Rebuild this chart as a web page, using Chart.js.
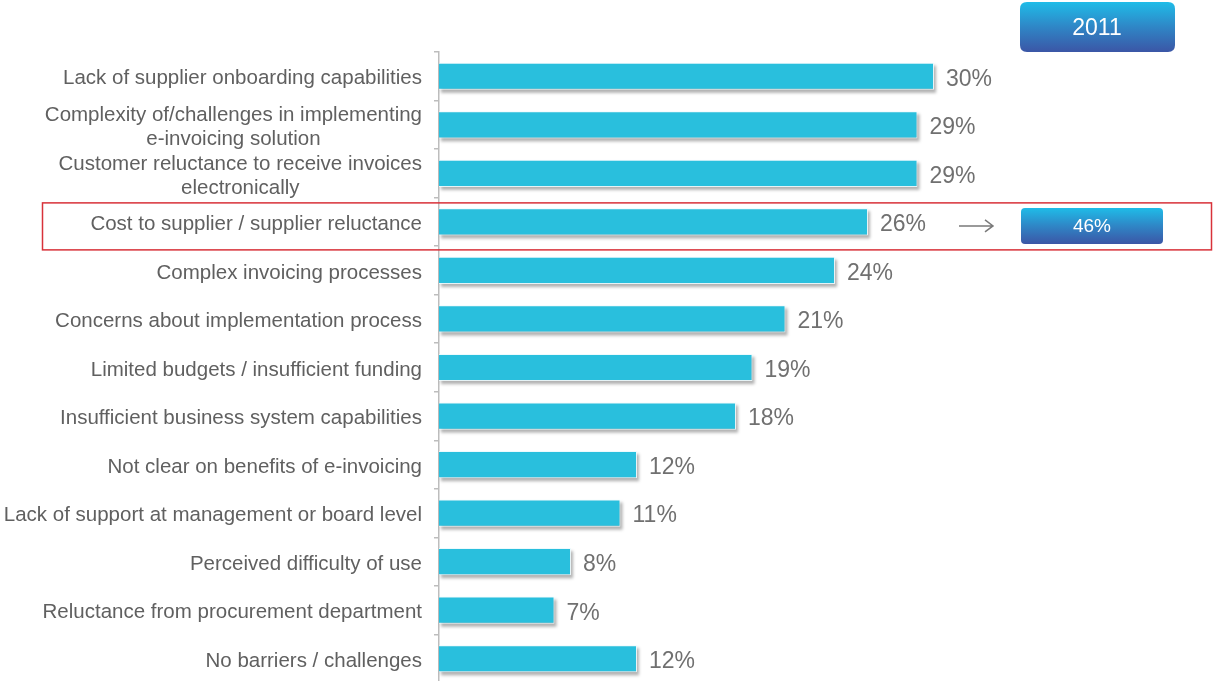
<!DOCTYPE html>
<html>
<head>
<meta charset="utf-8">
<script src="https://cdn.jsdelivr.net/npm/chart.js@4/dist/chart.umd.min.js"></script>
<style>
    html, body { margin: 0; padding: 0; background: #fff; overflow: hidden; }
    #wrap { position: relative; width: 1214px; height: 684px; }
</style>
</head>
<body>
<div id="wrap"><canvas id="barriersChart"></canvas></div>
<script>
    'use strict';

    var categories = [
        ['Lack of supplier onboarding capabilities'],
        ['Complexity of/challenges in implementing', 'e-invoicing solution'],
        ['Customer reluctance to receive invoices', 'electronically'],
        ['Cost to supplier / supplier reluctance'],
        ['Complex invoicing processes'],
        ['Concerns about implementation process'],
        ['Limited budgets / insufficient funding'],
        ['Insufficient business system capabilities'],
        ['Not clear on benefits of e-invoicing'],
        ['Lack of support at management or board level'],
        ['Perceived difficulty of use'],
        ['Reluctance from procurement department'],
        ['No barriers / challenges']
    ];
    var values2011 = [30, 29, 29, 26, 24, 21, 19, 18, 12, 11, 8, 7, 12];
    var yearLabel = '2011';
    var highlightIndex = 3;
    var highlightValue = 46;

    var labelFont = '20.5px "Liberation Sans", Arial, sans-serif';
    var valueFont = '23px "Liberation Sans", Arial, sans-serif';

    function blueGradient(ctx, top, bottom) {
        var g = ctx.createLinearGradient(0, top, 0, bottom);
        g.addColorStop(0, '#1fbce8');
        g.addColorStop(0.5, '#2f86c6');
        g.addColorStop(1, '#3b56a6');
        return g;
    }

    function roundBox(ctx, x, y, w, h, r) {
        ctx.beginPath();
        ctx.moveTo(x + r, y);
        ctx.lineTo(x + w - r, y);
        ctx.quadraticCurveTo(x + w, y, x + w, y + r);
        ctx.lineTo(x + w, y + h - r);
        ctx.quadraticCurveTo(x + w, y + h, x + w - r, y + h);
        ctx.lineTo(x + r, y + h);
        ctx.quadraticCurveTo(x, y + h, x, y + h - r);
        ctx.lineTo(x, y + r);
        ctx.quadraticCurveTo(x, y, x + r, y);
        ctx.closePath();
    }

    // soft grey shadow behind each bar, offset down and right
    var barShadow = {
        id: 'barShadow',
        beforeDatasetsDraw: function (chart) {
            var ctx = chart.ctx;
            var meta = chart.getDatasetMeta(0);
            ctx.save();
            ctx.filter = 'blur(1.5px)';
            ctx.fillStyle = 'rgba(0,0,0,0.3)';
            meta.data.forEach(function (bar) {
                var h = bar.height;
                ctx.fillRect(bar.base + 2, bar.y - h / 2 + 3, bar.x - bar.base, h);
            });
            ctx.restore();
        }
    };

    // category names (multi-line ones centred in their block) and value labels
    var barLabels = {
        id: 'barLabels',
        afterDraw: function (chart) {
            var ctx = chart.ctx;
            var yScale = chart.scales.y;
            var meta = chart.getDatasetMeta(0);
            var rightEdge = chart.chartArea.left - 17;

            ctx.save();
            ctx.textBaseline = 'middle';
            ctx.font = labelFont;
            ctx.fillStyle = '#606060';
            categories.forEach(function (lines, i) {
                var cy = yScale.getPixelForValue(i) + 2.5;
                var maxW = 0;
                lines.forEach(function (l) { maxW = Math.max(maxW, ctx.measureText(l).width); });
                ctx.textAlign = 'center';
                var lh = 24;
                var y0 = cy - (lines.length - 1) * lh / 2;
                lines.forEach(function (l, k) {
                    ctx.fillText(l, rightEdge - maxW / 2, y0 + k * lh);
                });
            });

            ctx.font = valueFont;
            ctx.fillStyle = '#707070';
            ctx.textAlign = 'left';
            meta.data.forEach(function (bar, i) {
                ctx.fillText(values2011[i] + '%', bar.x + 12, bar.y + 3);
            });
            ctx.restore();
        }
    };

    // year badge, highlight frame, arrow and comparison badge
    var annotations = {
        id: 'annotations',
        afterDraw: function (chart) {
            var ctx = chart.ctx;
            var cy = chart.scales.y.getPixelForValue(highlightIndex);

            ctx.save();
            roundBox(ctx, 1020, 2, 155, 50, 7);
            ctx.fillStyle = blueGradient(ctx, 2, 52);
            ctx.fill();
            ctx.fillStyle = '#ffffff';
            ctx.font = '23px "Liberation Sans", Arial, sans-serif';
            ctx.textAlign = 'center';
            ctx.textBaseline = 'middle';
            ctx.fillText(yearLabel, 1097, 29);

            ctx.strokeStyle = '#d8323a';
            ctx.lineWidth = 1.5;
            ctx.strokeRect(42.5, cy - 19, 1169, 47);

            var ay = cy + 4;
            ctx.strokeStyle = '#7a7a7a';
            ctx.lineWidth = 1.5;
            ctx.beginPath();
            ctx.moveTo(959, ay);
            ctx.lineTo(993, ay);
            ctx.moveTo(985, ay - 6);
            ctx.lineTo(993, ay);
            ctx.lineTo(985, ay + 6);
            ctx.stroke();

            roundBox(ctx, 1021, cy - 14, 142, 36, 4);
            ctx.fillStyle = blueGradient(ctx, cy - 14, cy + 22);
            ctx.fill();
            ctx.fillStyle = '#ffffff';
            ctx.font = '19px "Liberation Sans", Arial, sans-serif';
            ctx.fillText(highlightValue + '%', 1092, ay + 1);
            ctx.restore();
        }
    };

    new Chart(document.getElementById('barriersChart'), {
        type: 'bar',
        data: {
            labels: categories.map(function (l) { return l.join(' '); }),
            datasets: [{
                label: yearLabel,
                data: values2011,
                backgroundColor: '#29bfdd',
                borderColor: 'rgba(235,250,253,0.9)',
                borderWidth: 1,
                borderSkipped: 'left',
                categoryPercentage: 1,
                barPercentage: 0.56
            }]
        },
        options: {
            indexAxis: 'y',
            responsive: true,
            maintainAspectRatio: false,
            animation: false,
            layout: { padding: { left: 434, right: 280, top: 52, bottom: 1 } },
            plugins: {
                legend: { display: false },
                tooltip: { enabled: false }
            },
            scales: {
                x: {
                    display: false,
                    min: 0,
                    max: 30
                },
                y: {
                    offset: true,
                    ticks: { display: false },
                    grid: {
                        offset: true,
                        drawOnChartArea: false,
                        tickLength: 5,
                        color: '#bdbdbd',
                        lineWidth: 1.5
                    },
                    border: { color: '#bdbdbd', width: 1.5 }
                }
            }
        },
        plugins: [barShadow, barLabels, annotations]
    });
</script>
</body>
</html>
